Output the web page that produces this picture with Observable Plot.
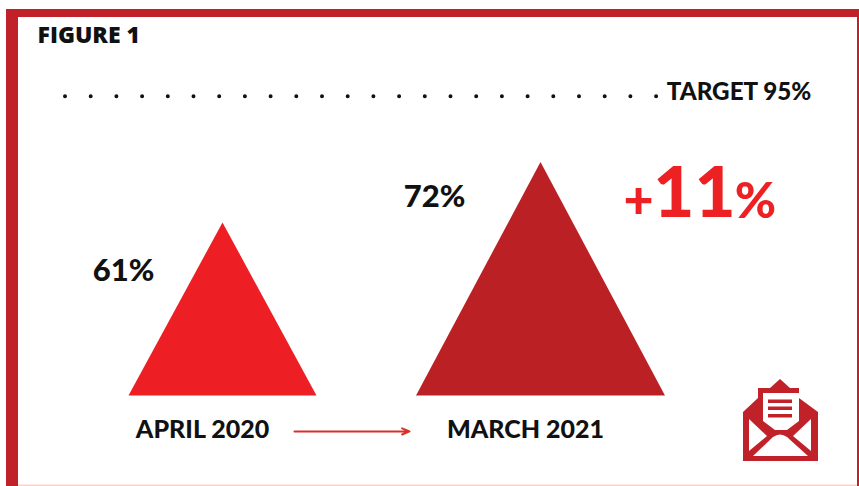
<!DOCTYPE html>
<html>
<head>
<meta charset="utf-8">
<script src="https://cdn.jsdelivr.net/npm/d3@7"></script>
<script src="https://cdn.jsdelivr.net/npm/@observablehq/plot@0.6"></script>
<style>
  html, body { margin: 0; padding: 0; background: #fff; }
  #chart { position: relative; width: 859px; height: 486px; overflow: hidden; }
  #chart svg { display: block; position: absolute; left: 0; top: 0; }
  #edge {
    position: absolute; left: 6px; top: 9px; right: 0; bottom: 0;
    border-style: solid; border-color: #c1222a;
    border-width: 8px 2px 0 12px;
    box-shadow: inset 0 -1.5px 0 #fbd3cb;
    pointer-events: none;
  }
</style>
</head>
<body>
<div id="chart"><div id="edge"></div></div>
<script>
// Share of target reached at each reading
const periods = ["APRIL 2020", "MARCH 2021"];
const shares = [61, 72];
const shareColors = ["#ed1f24", "#bb2025"];
const target = 95;
const targetLabel = `TARGET ${target}%`;
const heading = "FIGURE 1";
const change = shares[1] - shares[0];

const rows = periods.map((period, i) => ({period, share: shares[i], color: shareColors[i]}));

// Triangle anchored on the middle of its base; r is its height
const triangle = {
  draw(context, size) {
    const h = Math.sqrt(size / Math.PI);
    const w = 13.6 + h * 1.008;
    context.moveTo(0, -h);
    context.lineTo(w / 2, 0);
    context.lineTo(-w / 2, 0);
    context.closePath();
  }
};

const FONT = "Lato, Carlito, sans-serif";
const label = (data, options) => Plot.text(data, {
  fontFamily: FONT, fontWeight: 900, fill: "#111", textAnchor: "middle", lineAnchor: "middle", ...options
});

// Open envelope drawn as a small decorative mark
const envelope = () => {
  const g = d3.create("svg:g");
  const path = (d, fill) => g.append("path").attr("d", d).attr("fill", fill);
  path("M780 379L790 388H799V398L818 412V461H743V412L758 398V388H770Z", "#c1222a");
  path("M763 393H799V421L787 430H775L763 421Z", "#fff");
  path("M768 399.5H792V403H768ZM768 406.5H792V410H768ZM768 414H792V417.5H768Z", "#c1222a");
  path("M749 419L767 436L749 451Z", "#fff");
  path("M811 419L793 436L811 451Z", "#fff");
  path("M753 456L773 437Q780 432 787 437L808 456Z", "#fff");
  return g.node();
};

const chart = Plot.plot({
  width: 859,
  height: 486,
  margin: 0,
  style: {background: "transparent"},
  x: {type: "point", domain: periods, range: [222, 540], padding: 0, axis: null},
  y: {domain: [0, 100], range: [395, 80], axis: null},
  r: {type: "linear", domain: shares, range: [173, 233.5]},
  marks: [
    Plot.text([heading], {
      frameAnchor: "top-left", dx: 37, dy: 35, lineAnchor: "middle", textAnchor: "start",
      fontFamily: "'Open Sans', sans-serif", fontWeight: 800, fontSize: 23, fill: "#111"
    }),
    // Dotted target level
    Plot.ruleY([target], {
      insetLeft: 65, insetRight: 199,
      stroke: "#111", strokeWidth: 4, strokeLinecap: "round", strokeDasharray: "0 25.7"
    }),
    label([targetLabel], {frameAnchor: "top-left", dx: 738.5, dy: 92, fontSize: 24.2}),
    Plot.dot(rows, {x: "period", y: () => 0, r: "share", symbol: triangle, fill: "color", stroke: "none"}),
    label([rows[0]], {x: "period", y: () => 0, text: d => `${d.share}%`, dx: -99, dy: -124, fontSize: 31}),
    label([rows[1]], {x: "period", y: () => 0, text: d => `${d.share}%`, dx: -106, dy: -198, fontSize: 31}),
    label([rows[0]], {x: "period", y: () => 0, text: "period", dx: -20, dy: 34, fontSize: 25}),
    label([rows[1]], {x: "period", y: () => 0, text: "period", dx: -15, dy: 34, fontSize: 25}),
    Plot.arrow([periods], {
      x1: d => d[0], x2: d => d[1], y1: () => -11.4, y2: () => -11.4,
      insetStart: 72, insetEnd: 131,
      stroke: "#d9302a", strokeWidth: 2, headLength: 6, headAngle: 45
    }),
    // Size of the change, with the figure set larger than its sign and unit
    Plot.text(["+"], {frameAnchor: "top-left", dx: 638, dy: 201, lineAnchor: "middle", textAnchor: "middle", fontFamily: FONT, fontWeight: 900, fontSize: 52, fill: "#ed2024"}),
    Plot.text([String(change)], {frameAnchor: "top-left", dx: 694, dy: 194, lineAnchor: "middle", textAnchor: "middle", fontFamily: FONT, fontWeight: 900, fontSize: 71, fill: "#ed2024"}),
    Plot.text(["%"], {frameAnchor: "top-left", dx: 755, dy: 201, lineAnchor: "middle", textAnchor: "middle", fontFamily: FONT, fontWeight: 900, fontSize: 50, fill: "#ed2024"}),
    envelope
  ]
});

document.getElementById("chart").prepend(chart);
</script>
</body>
</html>
